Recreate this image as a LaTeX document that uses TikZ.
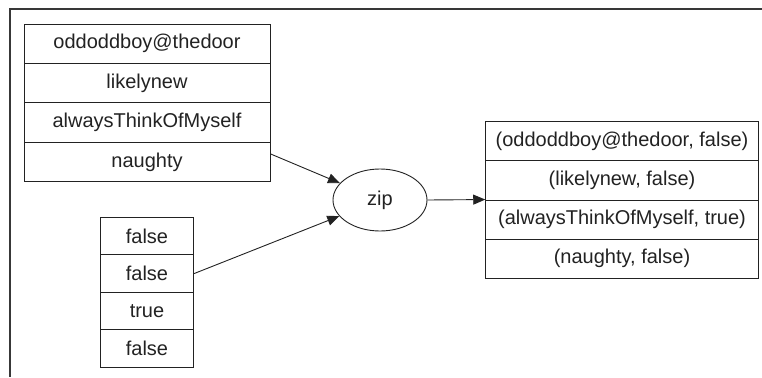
\documentclass[tikz,border=0pt]{standalone}
\usepackage{fontspec}
\setmainfont{Liberation Sans}
\usetikzlibrary{shapes.geometric,arrows.meta}
\definecolor{ink}{HTML}{222222}
\begin{document}
\begin{tikzpicture}[x=1pt,y=-1pt,
  cell/.style={draw=ink, line width=0.9pt, inner sep=0pt, text=ink,
    font=\fontsize{20}{23}\selectfont},
  leftcell/.style={cell, minimum width=246pt, minimum height=39.4pt},
  botcell/.style={cell, minimum width=93.4pt, minimum height=37.5pt},
  rightcell/.style={cell, minimum width=272.6pt, minimum height=39.15pt},
  op/.style={draw=ink, line width=0.9pt, ellipse, minimum width=94pt, minimum height=62pt, inner sep=0pt, text=ink, font=\fontsize{20}{23}\selectfont},
  link/.style={draw=ink, line width=0.9pt, -{Triangle[length=12pt,width=10pt]}},
  frame/.style={draw=ink!90, line width=1.4pt}]
\useasboundingbox (0,0) rectangle (762,377);
\draw[frame] (762,9) -- (10,9) -- (10,377);
% left box
\node[leftcell] (a1) at (147,43.7) {oddoddboy@thedoor};
\node[leftcell] (a2) at (147,83.1) {likelynew};
\node[leftcell] (a3) at (147,122.5) {alwaysThinkOfMyself};
\node[leftcell] (a4) at (147,161.9) {naughty};
% bottom box
\node[botcell] (b1) at (147,236.05) {false};
\node[botcell] (b2) at (147,273.55) {false};
\node[botcell] (b3) at (147,311.05) {true};
\node[botcell] (b4) at (147,348.55) {false};
% zip
\node[op] (zip) at (380,200) {zip};
% right box
\node[rightcell] (c1) at (622,141.275) {(oddoddboy@thedoor, false)};
\node[rightcell] (c2) at (622,180.425) {(likelynew, false)};
\node[rightcell] (c3) at (622,219.575) {(alwaysThinkOfMyself, true)};
\node[rightcell] (c4) at (622,258.725) {(naughty, false)};
% connectors
\draw[link] ([yshift=8pt]a4.east) -- (zip);
\draw[link] (b2.east) -- (zip);
\draw[link] (zip.east) -- (c3.north west);
\end{tikzpicture}
\end{document}
